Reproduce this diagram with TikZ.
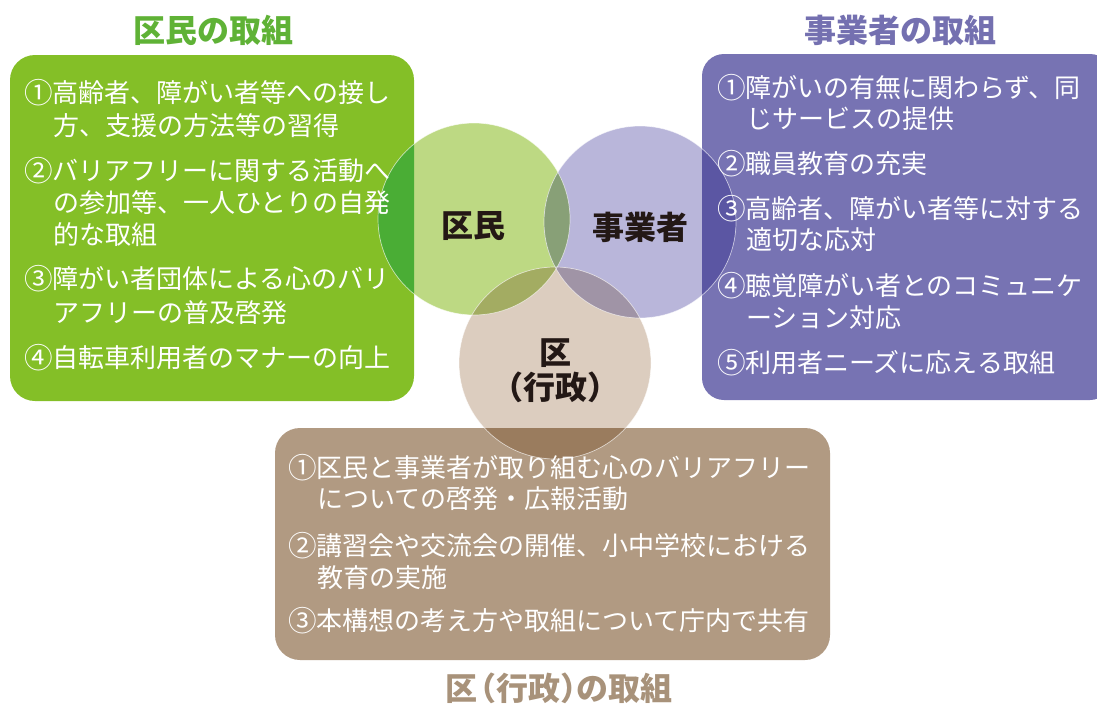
\documentclass[tikz,border=0pt]{standalone}
\usepackage{fontspec}
\newfontfamily\jp{Noto Sans CJK JP}
\newcommand\numbox[1]{\makebox[1.04em][c]{\raisebox{-0.04em}{\scalebox{1.1}{#1}}}}
\definecolor{gbox}{HTML}{84BF27}
\definecolor{pbox}{HTML}{7773B3}
\definecolor{bbox}{HTML}{B19A82}
\definecolor{gcirc}{HTML}{BDD983}
\definecolor{pcirc}{HTML}{B9B6DA}
\definecolor{bcirc}{HTML}{DCCDBF}
\definecolor{gpov}{HTML}{88A077}
\definecolor{gbov}{HTML}{A3AC62}
\definecolor{pbov}{HTML}{A094A6}
\definecolor{gdark}{HTML}{4AAD35}
\definecolor{pdark}{HTML}{5B56A3}
\definecolor{bdark}{HTML}{9A7C5E}
\definecolor{gtitle}{HTML}{5FB236}
\definecolor{ptitle}{HTML}{7470B0}
\definecolor{btitle}{HTML}{A8927A}
\definecolor{labk}{HTML}{231815}
\begin{document}
\begin{tikzpicture}[x=1pt,y=-1pt,
  boxtxt/.style={anchor=base west, inner sep=0pt, text=white, font=\jp\fontsize{26}{30}\selectfont},
  titletxt/.style={anchor=base, inner sep=0pt, font=\jp\bfseries\fontsize{32}{36}\selectfont},
  circlabel/.style={anchor=base, inner sep=0pt, text=labk, font=\jp\bfseries\fontsize{32}{36}\selectfont},
  ring/.style={draw=white, line width=0.7pt, draw opacity=0.6}]
\useasboundingbox (0,0) rectangle (1097,704);
\clip (0,0) rectangle (1097,704);
% centres
\coordinate (cg) at (474,219);
\coordinate (cp) at (640,222);
\coordinate (cb) at (555,363);
\def\R{96pt}
% boxes
\fill[gbox, rounded corners=25pt] (10,55) rectangle (414,401);
\fill[pbox, rounded corners=22pt] (702,54) rectangle (1112,400);
\fill[bbox, rounded corners=25pt] (275,428) rectangle (830,660);
% circles
\fill[gcirc] (cg) circle[radius=\R];
\fill[pcirc] (cp) circle[radius=\R];
\fill[bcirc] (cb) circle[radius=\R];
% overlaps
\begin{scope}\clip (cg) circle[radius=\R]; \fill[gpov] (cp) circle[radius=\R];\end{scope}
\begin{scope}\clip (cg) circle[radius=\R]; \fill[gbov] (cb) circle[radius=\R];\end{scope}
\begin{scope}\clip (cp) circle[radius=\R]; \fill[pbov] (cb) circle[radius=\R];\end{scope}
\begin{scope}\clip[rounded corners=25pt] (10,55) rectangle (414,401); \fill[gdark] (cg) circle[radius=\R];\end{scope}
\begin{scope}\clip[rounded corners=22pt] (702,54) rectangle (1112,400); \fill[pdark] (cp) circle[radius=\R];\end{scope}
\begin{scope}\clip[rounded corners=25pt] (275,428) rectangle (830,660); \fill[bdark] (cb) circle[radius=\R];\end{scope}
% rings
\path[ring] (cg) circle[radius=\R];
\path[ring] (cp) circle[radius=\R];
\path[ring] (cb) circle[radius=\R];
% titles
\node[titletxt, text=gtitle] (tg) at (213,42) {区民の取組};
\node[titletxt, text=ptitle] (tp) at (900,42) {事業者の取組};
\node[titletxt, text=btitle] (tb) at (559,700) {区\kern-0.4em（行政）\kern-0.5em の取組};
% circle labels
\node[circlabel] (lg) at (473,237) {区民};
\node[circlabel] (lp) at (640,239) {事業者};
\node[circlabel] (lb1) at (555,364) {区};
\node[circlabel] (lb2) at (555,399) {（行政）};
% green box text
\node[boxtxt] (g1a) at (25,102) {\numbox{①}高齢者、障がい者等への接し};
\node[boxtxt] (g1b) at (53,135) {方、支援の方法等の習得};
\node[boxtxt] (g2a) at (25,180) {\numbox{②}バリアフリーに関する活動へ};
\node[boxtxt] (g2b) at (53,212) {の参加等、一人ひとりの自発};
\node[boxtxt] (g2c) at (53,244) {的な取組};
\node[boxtxt] (g3a) at (25,288) {\numbox{③}障がい者団体による心のバリ};
\node[boxtxt] (g3b) at (53,322) {アフリーの普及啓発};
\node[boxtxt] (g4a) at (25,367) {\numbox{④}自転車利用者のマナーの向上};
% purple box text
\node[boxtxt] (p1a) at (718,97) {\numbox{①}障がいの有無に関わらず、同};
\node[boxtxt] (p1b) at (746,128) {じサービスの提供};
\node[boxtxt] (p2a) at (718,173) {\numbox{②}職員教育の充実};
\node[boxtxt] (p3a) at (718,218) {\numbox{③}高齢者、障がい者等に対する};
\node[boxtxt] (p3b) at (746,249) {適切な応対};
\node[boxtxt] (p4a) at (718,295) {\numbox{④}聴覚障がい者とのコミュニケ};
\node[boxtxt] (p4b) at (746,327) {ーション対応};
\node[boxtxt] (p5a) at (718,372) {\numbox{⑤}利用者ニーズに応える取組};
% brown box text
\node[boxtxt] (b1a) at (289,477) {\numbox{①}区民と事業者が取り組む心のバリアフリー};
\node[boxtxt] (b1b) at (317,508) {についての啓発・広報活動};
\node[boxtxt] (b2a) at (289,555) {\numbox{②}講習会や交流会の開催、小中学校における};
\node[boxtxt] (b2b) at (317,587) {教育の実施};
\node[boxtxt] (b3a) at (289,630) {\numbox{③}本構想の考え方や取組について庁内で共有};
\end{tikzpicture}
\end{document}
